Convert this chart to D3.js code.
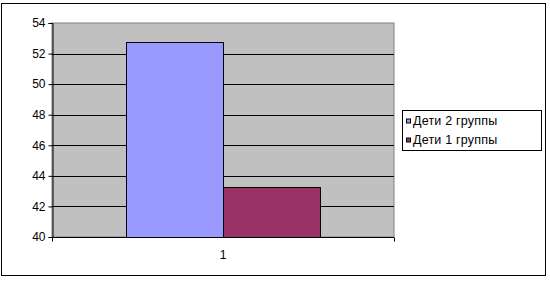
<!DOCTYPE html>
<html>
<head>
<meta charset="utf-8">
<script src="https://cdn.jsdelivr.net/npm/d3@7"></script>
<style>
  body { margin: 0; background: #fff; }
  text { font-family: "Liberation Sans", Arial, sans-serif; }
</style>
</head>
<body>
<div id="chart"></div>
<script>
const categories = ['1'];
const seriesNames = ['Дети 2 группы', 'Дети 1 группы'];
const seriesValues = [52.75, 43.25];
const seriesColors = ['#9999FF', '#993366'];
const yTicks = [40, 42, 44, 46, 48, 50, 52, 54];

const width = 550, height = 282;
const plot = { left: 52, top: 23, right: 394, bottom: 237 };

const svg = d3.select('#chart').append('svg')
  .attr('width', width)
  .attr('height', height);

// outer frame
svg.append('rect')
  .attr('x', 1.5).attr('y', 3.5)
  .attr('width', 544).attr('height', 272)
  .attr('fill', '#fff').attr('stroke', '#000').attr('stroke-width', 1);

const y = d3.scaleLinear().domain([40, 54]).range([plot.bottom, plot.top]);
const x0 = d3.scaleBand().domain(categories).range([plot.left, plot.right]).paddingInner(0).paddingOuter(0.38);
const x1 = d3.scaleBand().domain(seriesNames).range([0, x0.bandwidth()]);

// plot background
svg.append('rect')
  .attr('x', plot.left).attr('y', plot.top)
  .attr('width', plot.right - plot.left).attr('height', plot.bottom - plot.top)
  .attr('fill', '#C0C0C0').attr('stroke', '#808080');

// gridlines
svg.append('g').selectAll('line')
  .data(yTicks.filter(d => d > 40 && d < 54))
  .enter().append('line')
  .attr('x1', plot.left).attr('x2', plot.right)
  .attr('y1', d => Math.round(y(d)) + 0.5).attr('y2', d => Math.round(y(d)) + 0.5)
  .attr('stroke', '#000');

// bars
const g = svg.append('g');
categories.forEach((c, ci) => {
  g.selectAll('rect.s' + ci)
    .data(seriesNames)
    .enter().append('rect')
    .attr('x', s => Math.round(x0(c) + x1(s)) + 0.5)
    .attr('y', (s, i) => Math.round(y(seriesValues[i])) + 0.5)
    .attr('width', Math.round(x1.bandwidth()))
    .attr('height', (s, i) => Math.round(y(40)) - Math.round(y(seriesValues[i])))
    .attr('fill', (s, i) => seriesColors[i])
    .attr('stroke', '#000');
});

// y axis
const yAxis = svg.append('g')
  .attr('transform', `translate(${plot.left + 0.5},0)`)
  .call(d3.axisLeft(y).tickValues(yTicks).tickSize(4).tickPadding(3).tickFormat(d3.format('d')));
yAxis.select('.domain').attr('stroke', '#000');
yAxis.selectAll('text').attr('font-size', 12).attr('fill', '#000')
  .attr('font-family', '"Liberation Sans", Arial, sans-serif');

// x axis
const xAxis = svg.append('g')
  .attr('transform', `translate(0,${plot.bottom + 0.5})`);
xAxis.append('line')
  .attr('x1', plot.left).attr('x2', plot.right)
  .attr('stroke', '#000');
xAxis.selectAll('line.tk')
  .data([plot.left, plot.right])
  .enter().append('line')
  .attr('x1', d => d + 0.5).attr('x2', d => d + 0.5)
  .attr('y1', 0).attr('y2', 4)
  .attr('stroke', '#000');
xAxis.selectAll('text')
  .data(categories)
  .enter().append('text')
  .attr('x', d => x0(d) + x0.bandwidth() / 2)
  .attr('y', 21)
  .attr('text-anchor', 'middle')
  .attr('font-size', 12)
  .text(d => d);

// legend
const lg = svg.append('g');
lg.append('rect')
  .attr('x', 402.5).attr('y', 110.5)
  .attr('width', 139).attr('height', 40)
  .attr('fill', '#fff').attr('stroke', '#000');
const items = lg.selectAll('g.item')
  .data(seriesNames)
  .enter().append('g')
  .attr('transform', (d, i) => `translate(405,${120.5 + i * 19})`);
items.append('rect')
  .attr('x', 1.5).attr('y', -1.5)
  .attr('width', 4).attr('height', 4)
  .attr('fill', (d, i) => seriesColors[i])
  .attr('stroke', '#000');
items.append('text')
  .attr('x', 8).attr('y', 4)
  .attr('font-size', 12.5)
  .attr('letter-spacing', 0.2)
  .text(d => d);
</script>
</body>
</html>
